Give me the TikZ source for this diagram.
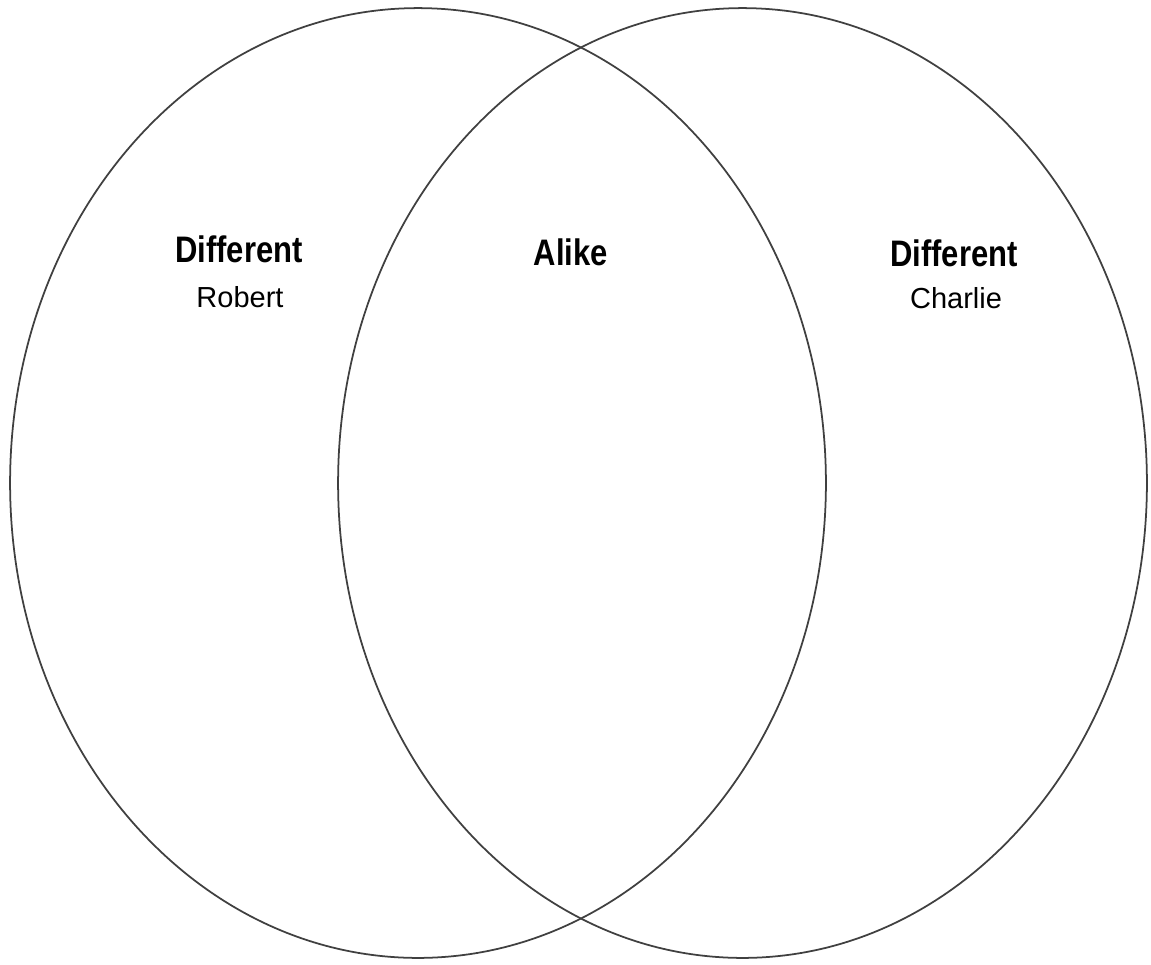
\documentclass[tikz,border=0pt]{standalone}
\usepackage{fontspec}
\setmainfont{Liberation Sans}
\usepackage{graphicx}
\usetikzlibrary{shapes.geometric}

\begin{document}
\begin{tikzpicture}[
  x=0.02cm, y=-0.02cm,
  set/.style={draw=black!75,ellipse,inner sep=0pt,line width=1pt},
  head/.style={font=\fontsize{21}{24}\selectfont\bfseries},
  person/.style={font=\fontsize{16.5}{19}\selectfont}
]
\useasboundingbox (0,0) rectangle (1151,964);
\node[set,minimum width=16.32cm,minimum height=19cm] (robertset) at (418,483) {};
\node[set,minimum width=16.18cm,minimum height=19cm] (charlieset) at (742.5,483) {};
\node[head] (diffleft) at (239,249) {\scalebox{0.84}[1]{Different}};
\node[person] (robert) at (240,297) {Robert};
\node[head] (alike) at (571,252) {\scalebox{0.84}[1]{Alike}};
\node[head] (diffright) at (954,253) {\scalebox{0.84}[1]{Different}};
\node[person] (charlie) at (956,298) {Charlie};
\end{tikzpicture}
\end{document}
